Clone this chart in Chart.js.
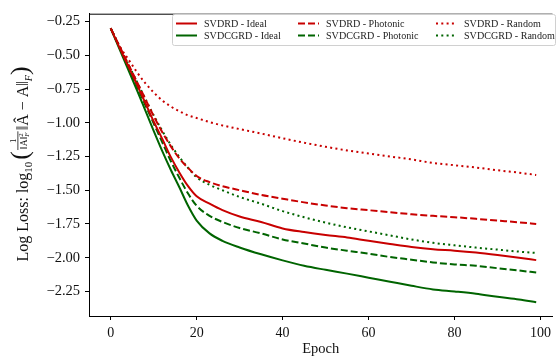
<!DOCTYPE html>
<html>
<head>
<meta charset="utf-8">
<script src="https://cdn.jsdelivr.net/npm/chart.js@4.4.1/dist/chart.umd.min.js"></script>
<style>
  html, body { margin: 0; padding: 0; background: #fff; }
  #lossChart { display: block; }
</style>
</head>
<body>
<canvas id="lossChart" width="556" height="358"></canvas>
<script>
const epochs = [0, 2, 4, 6, 8, 10, 12, 14, 16, 18, 20, 23, 26, 30, 35, 40, 45, 50, 55, 60, 65, 70, 75, 80, 85, 90, 95, 99];

const svdrdIdeal = [-0.30, -0.44, -0.575, -0.71, -0.85, -0.99, -1.12, -1.255, -1.37, -1.47, -1.545, -1.60, -1.648, -1.695, -1.735, -1.783, -1.81, -1.832, -1.85, -1.875, -1.898, -1.92, -1.937, -1.948, -1.962, -1.98, -2.0, -2.018];
const svdcgrdIdeal = [-0.30, -0.45, -0.60, -0.75, -0.905, -1.06, -1.21, -1.35, -1.48, -1.615, -1.725, -1.82, -1.875, -1.924, -1.975, -2.02, -2.06, -2.09, -2.118, -2.148, -2.178, -2.208, -2.235, -2.25, -2.267, -2.29, -2.31, -2.33];
const svdrdPhotonic = [-0.30, -0.43, -0.56, -0.69, -0.82, -0.95, -1.07, -1.175, -1.265, -1.335, -1.395, -1.44, -1.47, -1.50, -1.535, -1.563, -1.59, -1.613, -1.633, -1.648, -1.663, -1.678, -1.69, -1.70, -1.712, -1.725, -1.738, -1.75];
const svdcgrdPhotonic = [-0.30, -0.44, -0.58, -0.72, -0.865, -1.005, -1.145, -1.285, -1.41, -1.525, -1.615, -1.69, -1.735, -1.78, -1.82, -1.865, -1.895, -1.925, -1.948, -1.97, -1.995, -2.015, -2.035, -2.05, -2.06, -2.078, -2.095, -2.11];
const svdrdRandom = [-0.30, -0.43, -0.525, -0.62, -0.705, -0.775, -0.835, -0.88, -0.915, -0.945, -0.965, -0.995, -1.02, -1.047, -1.08, -1.115, -1.148, -1.178, -1.205, -1.228, -1.25, -1.272, -1.298, -1.315, -1.332, -1.352, -1.37, -1.387];
const svdcgrdRandom = [-0.30, -0.43, -0.56, -0.69, -0.82, -0.945, -1.06, -1.165, -1.255, -1.335, -1.405, -1.46, -1.50, -1.55, -1.60, -1.655, -1.70, -1.74, -1.775, -1.805, -1.835, -1.865, -1.89, -1.908, -1.925, -1.94, -1.955, -1.965];

const xTicks = [0, 20, 40, 60, 80, 100];
const yTicks = [-2.25, -2.00, -1.75, -1.50, -1.25, -1.00, -0.75, -0.50, -0.25];

const RED = '#c80000';
const GREEN = '#006400';
const SERIF = '"Liberation Serif", "DejaVu Serif", serif';

const toPoints = vals => vals.map((v, i) => ({ x: epochs[i], y: v }));

function line(label, vals, color, dash) {
    return {
        label: label,
        data: toPoints(vals),
        borderColor: color,
        backgroundColor: color,
        borderWidth: 2,
        borderDash: dash,
        pointRadius: 0,
        cubicInterpolationMode: 'monotone',
        fill: false
    };
}

// matplotlib-style legend box, filled column by column
const boxLegend = {
    id: 'boxLegend',
    afterDraw(chart) {
        const c = chart.ctx;
        c.save();
        c.beginPath();
        c.roundRect(172.5, 14.5, 383, 31, 2);
        c.fillStyle = 'rgba(255,255,255,0.8)';
        c.fill();
        c.strokeStyle = '#d0d0d0';
        c.lineWidth = 1;
        c.stroke();
        const cols = [176, 298, 436];
        const rows = [23.5, 35.5];
        chart.data.datasets.forEach((ds, i) => {
            const x = cols[Math.floor(i / 2)];
            const y = rows[i % 2];
            c.strokeStyle = ds.borderColor;
            c.lineWidth = 2;
            c.setLineDash(ds.borderDash || []);
            c.beginPath();
            c.moveTo(x, y);
            c.lineTo(x + 21, y);
            c.stroke();
            c.setLineDash([]);
            c.fillStyle = '#222';
            c.font = '10.1px ' + SERIF;
            c.textBaseline = 'middle';
            c.fillText(ds.label, x + 28, y + 0.5);
        });
        c.restore();
    }
};

// top spine (right spine falls outside the picture)
const topSpine = {
    id: 'topSpine',
    afterDraw(chart) {
        const a = chart.chartArea;
        const c = chart.ctx;
        c.save();
        c.strokeStyle = '#000';
        c.lineWidth = 1;
        c.beginPath();
        c.moveTo(a.left, a.top + 0.5);
        c.lineTo(a.right, a.top + 0.5);
        c.stroke();
        c.restore();
    }
};

// rotated y label with the fraction
const yTitle = {
    id: 'yTitle',
    afterDraw(chart) {
        const c = chart.ctx;
        const f = (s, st) => (st ? st + ' ' : '') + s + 'px ' + SERIF;
        const parts = [
            { t: 'Log Loss: log', font: f(16), dy: 0 },
            { t: '10', font: f(11), dy: 3.5 },
            { t: ' ', font: f(8), dy: 0 },
            { t: '(', font: f(26), dy: 0 },
            { frac: true },
            { t: '‖Â − A‖', font: f(16), dy: 0 },
            { t: 'F', font: f(10, 'italic'), dy: 3.5 },
            { t: ')', font: f(26), dy: 0 }
        ];
        c.save();
        c.fillStyle = '#111';
        c.textBaseline = 'alphabetic';
        const numFont = f(9), denFont = f(9.5), scFont = f(7), scItalic = f(7, 'italic');
        c.font = numFont;
        const numW = c.measureText('1').width;
        c.font = denFont;
        const denBase = c.measureText('‖A‖').width;
        c.font = scFont;
        const denW = denBase + c.measureText('2').width + 1;
        const fracW = Math.max(numW, denW) + 4;
        let total = 0;
        parts.forEach(p => {
            if (p.frac) { p.w = fracW; } else { c.font = p.font; p.w = c.measureText(p.t).width; }
            total += p.w;
        });
        c.translate(28, 164);
        c.rotate(-Math.PI / 2);
        let x = -total / 2;
        parts.forEach(p => {
            if (p.frac) {
                c.font = numFont;
                c.fillText('1', x + (fracW - numW) / 2, -12.5);
                c.fillRect(x + 1, -10.5, fracW - 2, 0.8);
                const dx = x + (fracW - denW) / 2;
                c.font = denFont;
                c.fillText('‖A‖', dx, -1.5);
                c.font = scFont;
                c.fillText('2', dx + denBase, -5);
                c.font = scItalic;
                c.fillText('F', dx + denBase, 0.5);
            } else {
                c.font = p.font;
                c.fillText(p.t, x, p.dy);
            }
            x += p.w;
        });
        c.restore();
    }
};

document.addEventListener('DOMContentLoaded', () => {
    const ctx = document.getElementById('lossChart').getContext('2d');

    const lossChart = new Chart(ctx, {
        type: 'line',
        data: {
            datasets: [
                line('SVDRD - Ideal', svdrdIdeal, RED, []),
                line('SVDCGRD - Ideal', svdcgrdIdeal, GREEN, []),
                line('SVDRD - Photonic', svdrdPhotonic, RED, [7, 3]),
                line('SVDCGRD - Photonic', svdcgrdPhotonic, GREEN, [7, 3]),
                line('SVDRD - Random', svdrdRandom, RED, [2, 3.3]),
                line('SVDCGRD - Random', svdcgrdRandom, GREEN, [2, 3.3])
            ]
        },
        options: {
            responsive: false,
            animation: false,
            devicePixelRatio: 1,
            layout: { padding: { top: 9, right: 0, left: 0, bottom: 0 } },
            plugins: {
                legend: { display: false },
                tooltip: { enabled: false }
            },
            scales: {
                x: {
                    type: 'linear',
                    min: -5.05,
                    max: 102.8,
                    afterBuildTicks: scale => { scale.ticks = xTicks.map(v => ({ value: v })); },
                    afterFit: scale => { scale.height = 42; },
                    grid: { drawOnChartArea: false, drawTicks: true, tickLength: 4, color: '#000' },
                    border: { display: true, color: '#000', width: 1 },
                    ticks: {
                        color: '#111',
                        padding: 5,
                        maxRotation: 0,
                        font: { family: SERIF, size: 14 },
                        callback: v => String(v)
                    },
                    title: {
                        display: true,
                        text: 'Epoch',
                        color: '#111',
                        font: { family: SERIF, size: 14.5 },
                        padding: { top: 0, bottom: 0 }
                    }
                },
                y: {
                    type: 'linear',
                    min: -2.432,
                    max: -0.192,
                    afterBuildTicks: scale => { scale.ticks = yTicks.map(v => ({ value: v })); },
                    afterFit: scale => { scale.width = 89; },
                    grid: { drawOnChartArea: false, drawTicks: true, tickLength: 4, color: '#000' },
                    border: { display: true, color: '#000', width: 1 },
                    ticks: {
                        color: '#111',
                        padding: 5,
                        font: { family: SERIF, size: 14.5 },
                        callback: v => v.toFixed(2).replace('-', '\u2212')
                    }
                }
            }
        },
        plugins: [topSpine, boxLegend, yTitle]
    });
});
</script>
</body>
</html>
